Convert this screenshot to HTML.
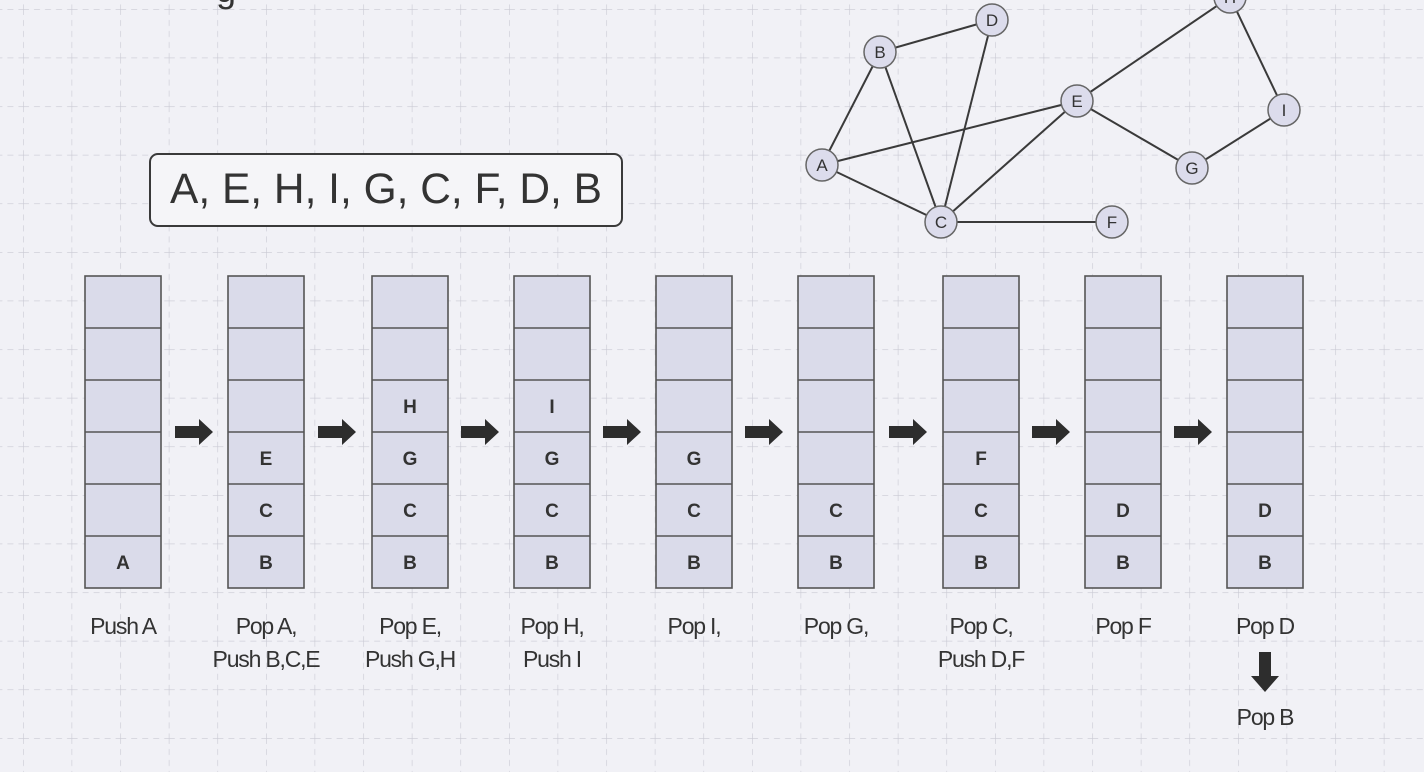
<!DOCTYPE html>
<html><head><meta charset="utf-8"><style>
html,body{margin:0;padding:0;width:1424px;height:772px;overflow:hidden;background:#f1f1f6;}
svg{display:block}
text{font-family:"Liberation Sans","DejaVu Sans",sans-serif;fill:#333;}
</style></head><body>
<svg width="1424" height="772" viewBox="0 0 1424 772" xmlns="http://www.w3.org/2000/svg">
<defs>
<pattern id="g" x="23" y="9" width="48.6" height="48.6" patternUnits="userSpaceOnUse">
<path d="M0 0V48.6M0 0H48.6" stroke="#c9c9d3" stroke-width="1.2" stroke-dasharray="6 5" fill="none"/>
</pattern>
<g id="arr"><path d="M0 -6H24V-13L38 0L24 13V6H0Z" fill="#2d2d2d"/></g>
</defs>
<rect width="1424" height="772" fill="#f1f1f6"/>
<rect width="1424" height="772" fill="url(#g)"/>
<text x="216" y="2" font-size="36">g</text>

<rect x="150" y="154" width="472" height="72" rx="8" fill="#f5f5f8" stroke="#3a3a3a" stroke-width="2"/>
<text x="386" y="203" font-size="43" text-anchor="middle" textLength="432" lengthAdjust="spacingAndGlyphs">A, E, H, I, G, C, F, D, B</text>

<g stroke="#3a3a3a" stroke-width="2">
<line x1="880" y1="52" x2="992" y2="20"/><line x1="880" y1="52" x2="822" y2="165"/><line x1="880" y1="52" x2="941" y2="222"/>
<line x1="992" y1="20" x2="941" y2="222"/><line x1="822" y1="165" x2="1077" y2="101"/><line x1="822" y1="165" x2="941" y2="222"/>
<line x1="941" y1="222" x2="1077" y2="101"/><line x1="941" y1="222" x2="1112" y2="222"/><line x1="1077" y1="101" x2="1230" y2="-3"/>
<line x1="1077" y1="101" x2="1192" y2="168"/><line x1="1192" y1="168" x2="1284" y2="110"/><line x1="1230" y1="-3" x2="1284" y2="110"/>
</g>
<g fill="#dcdcec" stroke="#666" stroke-width="1.5">
<circle cx="880" cy="52" r="16"/><circle cx="992" cy="20" r="16"/><circle cx="822" cy="165" r="16"/><circle cx="941" cy="222" r="16"/>
<circle cx="1077" cy="101" r="16"/><circle cx="1112" cy="222" r="16"/><circle cx="1192" cy="168" r="16"/><circle cx="1284" cy="110" r="16"/><circle cx="1230" cy="-3" r="16"/>
</g>
<g font-size="17" text-anchor="middle">
<text x="880" y="58">B</text><text x="992" y="26">D</text><text x="822" y="171">A</text><text x="941" y="228">C</text>
<text x="1077" y="107">E</text><text x="1112" y="228">F</text><text x="1192" y="174">G</text><text x="1284" y="116">I</text><text x="1230" y="3">H</text>
</g>

<g fill="#dadbea" stroke="#555" stroke-width="1.6">
<rect x="85" y="276" width="76" height="312"/><rect x="228" y="276" width="76" height="312"/><rect x="372" y="276" width="76" height="312"/>
<rect x="514" y="276" width="76" height="312"/><rect x="656" y="276" width="76" height="312"/><rect x="798" y="276" width="76" height="312"/>
<rect x="943" y="276" width="76" height="312"/><rect x="1085" y="276" width="76" height="312"/><rect x="1227" y="276" width="76" height="312"/>
</g>
<g stroke="#555" stroke-width="1.6">
<path d="M85 328h76M85 380h76M85 432h76M85 484h76M85 536h76"/>
<path d="M228 328h76M228 380h76M228 432h76M228 484h76M228 536h76"/>
<path d="M372 328h76M372 380h76M372 432h76M372 484h76M372 536h76"/>
<path d="M514 328h76M514 380h76M514 432h76M514 484h76M514 536h76"/>
<path d="M656 328h76M656 380h76M656 432h76M656 484h76M656 536h76"/>
<path d="M798 328h76M798 380h76M798 432h76M798 484h76M798 536h76"/>
<path d="M943 328h76M943 380h76M943 432h76M943 484h76M943 536h76"/>
<path d="M1085 328h76M1085 380h76M1085 432h76M1085 484h76M1085 536h76"/>
<path d="M1227 328h76M1227 380h76M1227 432h76M1227 484h76M1227 536h76"/>
</g>
<g font-size="19" text-anchor="middle" font-weight="bold" fill="#3a3a3a">
<text x="123" y="569">A</text>
<text x="266" y="465">E</text><text x="266" y="517">C</text><text x="266" y="569">B</text>
<text x="410" y="413">H</text><text x="410" y="465">G</text><text x="410" y="517">C</text><text x="410" y="569">B</text>
<text x="552" y="413">I</text><text x="552" y="465">G</text><text x="552" y="517">C</text><text x="552" y="569">B</text>
<text x="694" y="465">G</text><text x="694" y="517">C</text><text x="694" y="569">B</text>
<text x="836" y="517">C</text><text x="836" y="569">B</text>
<text x="981" y="465">F</text><text x="981" y="517">C</text><text x="981" y="569">B</text>
<text x="1123" y="517">D</text><text x="1123" y="569">B</text>
<text x="1265" y="517">D</text><text x="1265" y="569">B</text>
</g>
<use href="#arr" x="175" y="432"/><use href="#arr" x="318" y="432"/><use href="#arr" x="461" y="432"/>
<use href="#arr" x="603" y="432"/><use href="#arr" x="745" y="432"/><use href="#arr" x="889" y="432"/>
<use href="#arr" x="1032" y="432"/><use href="#arr" x="1174" y="432"/>
<path d="M1259 652h12v24h8l-14 16l-14-16h8z" fill="#2d2d2d"/>
<g font-size="23" text-anchor="middle" letter-spacing="-1.2">
<text x="123" y="634">Push A</text>
<text x="266" y="634">Pop A,</text><text x="266" y="667">Push B,C,E</text>
<text x="410" y="634">Pop E,</text><text x="410" y="667">Push G,H</text>
<text x="552" y="634">Pop H,</text><text x="552" y="667">Push I</text>
<text x="694" y="634">Pop I,</text>
<text x="836" y="634">Pop G,</text>
<text x="981" y="634">Pop C,</text><text x="981" y="667">Push D,F</text>
<text x="1123" y="634">Pop F</text>
<text x="1265" y="634">Pop D</text>
<text x="1265" y="725">Pop B</text>
</g>
</svg>
</body></html>
